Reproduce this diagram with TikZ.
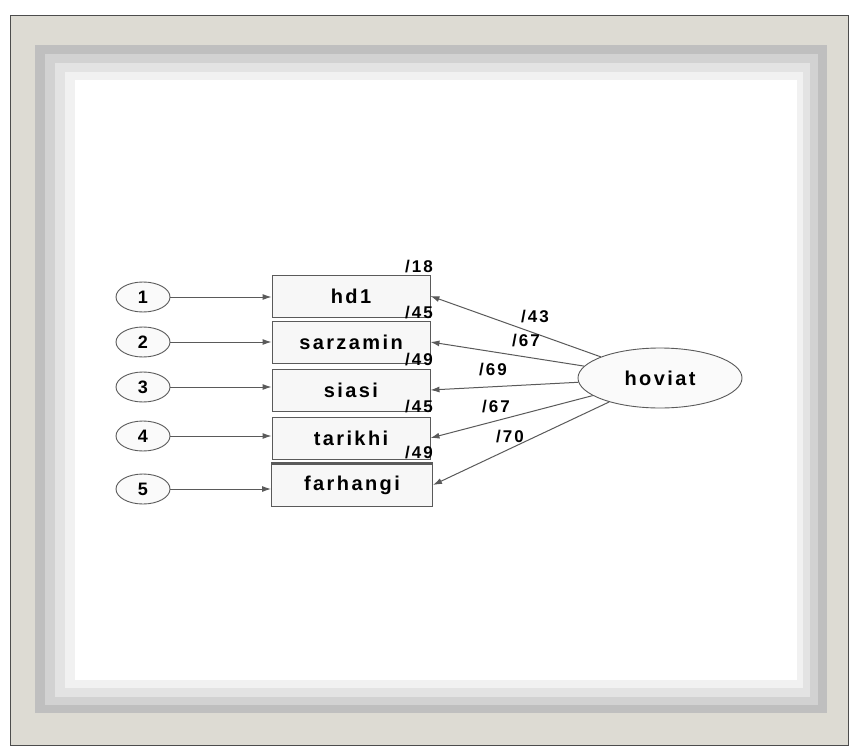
\documentclass[tikz,border=0pt]{standalone}
\usepackage{fontspec}
\usepackage{tikz}
\usetikzlibrary{shapes, arrows.meta, positioning, calc}
\newfontfamily\diagfont[LetterSpace=12]{Liberation Sans}
\definecolor{framebeige}{RGB}{221,219,211}
\definecolor{lineg}{RGB}{90,90,90}

\tikzset{
  ind/.style={draw=lineg, line width=0.9pt, fill=gray!6, minimum width=158pt, minimum height=42pt,
    font=\diagfont\bfseries\fontsize{20}{20}\selectfont},
  err/.style={ellipse, draw=lineg, line width=0.9pt, fill=gray!4, minimum width=54pt, minimum height=30pt,
    inner sep=0pt, font=\diagfont\bfseries\fontsize{18}{18}\selectfont},
  lat/.style={ellipse, draw=lineg, line width=0.9pt, fill=gray!4, minimum width=164pt, minimum height=60pt,
    font=\diagfont\bfseries\fontsize{20}{20}\selectfont},
  coef/.style={inner sep=0pt, font=\diagfont\bfseries\fontsize{17}{17}\selectfont},
  arr/.style={lineg, line width=1pt, -{Latex[length=9pt, width=6pt]}}
}

\begin{document}
\begin{tikzpicture}[x=1pt, y=-1pt]
  \useasboundingbox (0,0) rectangle (850,749);
  % frame
  \fill[white] (0,0) rectangle (850,749);
  \draw[gray!60!black, fill=framebeige] (10,15) rectangle (848,745);
  \fill[gray!50] (35,45) rectangle (827,713);
  \fill[gray!35] (45,54) rectangle (818,705);
  \fill[gray!22] (55,63) rectangle (810,697);
  \fill[gray!11] (65,72) rectangle (803,688);
  \fill[white] (75,80) rectangle (797,680);

  % observed variables
  \node[ind] (hd1) at (351,296) {hd1};
  \node[ind] (sarzamin) at (351,342) {sarzamin};
  \node[ind] (siasi) at (351,390) {siasi};
  \node[ind] (tarikhi) at (351,438) {tarikhi};
  \node[ind, minimum width=161pt] (farhangi) at (352,485) {farhangi};
  \draw[lineg, line width=3pt] (farhangi.north west) -- (farhangi.north east);

  % error terms
  \node[err] (e1) at (143,297) {1};
  \node[err] (e2) at (143,342) {2};
  \node[err] (e3) at (143,387) {3};
  \node[err] (e4) at (143,436) {4};
  \node[err] (e5) at (143,489) {5};

  \foreach \e/\b in {e1/hd1, e2/sarzamin, e3/siasi, e4/tarikhi, e5/farhangi}
    \draw[arr] (\e) -- (\e -| \b.west);

  % latent variable
  \node[lat] (hoviat) at (660,378) {hoviat};

  \foreach \b in {hd1, sarzamin, siasi, tarikhi, farhangi}
    \draw[arr] (hoviat) -- (\b.east);

  % loadings
  \node[coef] (c1) at (535,317) {/43};
  \node[coef] (c2) at (526,341) {/67};
  \node[coef] (c3) at (493,370) {/69};
  \node[coef] (c4) at (496,407) {/67};
  \node[coef] (c5) at (510,437) {/70};

  % squared multiple correlations
  \node[coef] (r1) at (419,267) {/18};
  \node[coef] (r2) at (419,313) {/45};
  \node[coef] (r3) at (419,360) {/49};
  \node[coef] (r4) at (419,407) {/45};
  \node[coef] (r5) at (419,453) {/49};
\end{tikzpicture}
\end{document}
